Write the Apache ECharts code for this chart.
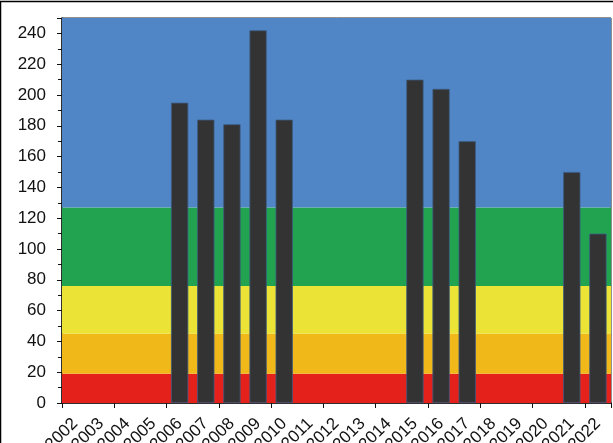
<!DOCTYPE html>
<html>
<head>
<meta charset="utf-8">
<script src="https://cdn.jsdelivr.net/npm/echarts@6/dist/echarts.min.js"></script>
<style>
	html, body { margin: 0; padding: 0; background: #fff; }
	#chart { width: 613px; height: 443px; }
</style>
</head>
<body>
<div id="chart"></div>
<script>
	var years = ['2002', '2003', '2004', '2005', '2006', '2007', '2008', '2009', '2010', '2011', '2012',
		'2013', '2014', '2015', '2016', '2017', '2018', '2019', '2020', '2021', '2022'];
	var values = [null, null, null, null, 195, 184, 181, 242, 184, null, null,
		null, null, 210, 204, 170, null, null, null, 150, 110];
	// colour bands: edges on the y scale and their fills
	var bandEdges = [0, 19, 45, 76, 127, 250];
	var bandColors = ['#e5211c', '#f1b81a', '#ebe336', '#21a34f', '#5086c6'];

	var chart = echarts.init(document.getElementById('chart'));

	var areas = [];
	for (var i = 0; i < bandColors.length; i++) {
		areas.push([{ yAxis: bandEdges[i], itemStyle: { color: bandColors[i] } }, { yAxis: bandEdges[i + 1] }]);
	}

	var labelFont = {
		color: '#111',
		fontFamily: 'Liberation Sans, Arial',
		fontSize: 17
	};

	var option = {
		animation: false,
		grid: [{
			left: 62,
			right: 2,
			top: 18,
			bottom: 40,
			outerBoundsMode: 'none',
			show: true,
			borderColor: '#222',
			borderWidth: 1,
			backgroundColor: 'transparent'
		}, {
			// label-only grid, nudged right like the original tick labels
			left: 75,
			width: 549,
			top: 18,
			bottom: 40,
			outerBoundsMode: 'none'
		}],
		xAxis: [{
			type: 'category',
			gridIndex: 0,
			data: years,
			boundaryGap: true,
			axisLine: { lineStyle: { color: '#111', width: 1.5 } },
			axisTick: { show: true, length: 5, lineStyle: { color: '#111' } },
			axisLabel: { show: false },
			splitLine: { show: false }
		}, {
			type: 'value',
			gridIndex: 1,
			position: 'bottom',
			min: 0,
			max: years.length,
			interval: 1,
			axisLine: { show: false },
			axisTick: { show: false },
			splitLine: { show: false },
			axisLabel: Object.assign({
				rotate: 45,
				margin: 18,
				showMinLabel: true,
				showMaxLabel: true,
				formatter: function(v) {
					return years[v] || '';
				}
			}, labelFont)
		}],
		yAxis: [{
			type: 'value',
			gridIndex: 0,
			min: 0,
			max: 250,
			interval: 20,
			axisLine: { show: true, lineStyle: { color: '#111', width: 1.5 } },
			axisTick: { show: true, length: 5, lineStyle: { color: '#111' } },
			minorTick: { show: true, splitNumber: 2, length: 4, lineStyle: { color: '#111' } },
			splitLine: { show: false },
			axisLabel: Object.assign({
				margin: 16,
				formatter: function(v) {
					return v > 240 ? '' : v;
				}
			}, labelFont)
		}, {
			type: 'value',
			gridIndex: 1,
			show: false
		}],
		series: [{
			type: 'line',
			xAxisIndex: 0,
			yAxisIndex: 0,
			data: [],
			z: 1,
			silent: true,
			markArea: {
				silent: true,
				itemStyle: { opacity: 1 },
				data: areas
			}
		}, {
			type: 'bar',
			xAxisIndex: 0,
			yAxisIndex: 0,
			data: values,
			z: 3,
			barWidth: '66%',
			itemStyle: {
				color: '#333333',
				borderColor: '#3d5a80',
				borderWidth: 0.8
			}
		}],
		graphic: [{
			type: 'polyline',
			shape: { points: [[0.5, 443], [0.5, 1.5], [613, 1.5]] },
			style: { stroke: '#000', lineWidth: 1.5, fill: null },
			z: 100
		}]
	};

	chart.setOption(option);
</script>
</body>
</html>
